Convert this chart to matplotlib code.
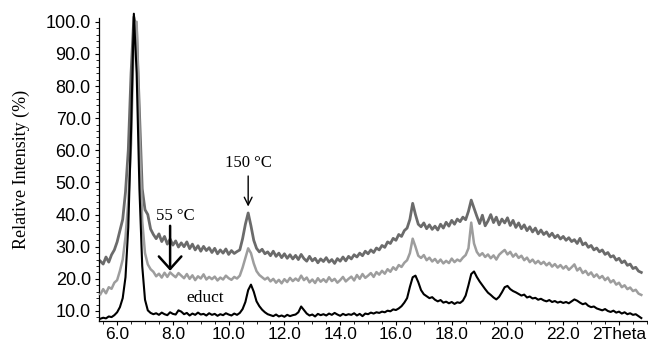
import numpy as np
import matplotlib
matplotlib.use("Agg")
import matplotlib.pyplot as plt
from matplotlib.ticker import MultipleLocator, FormatStrFormatter, FixedLocator

# 2-theta sampling grid (degrees), 0.1 deg steps from 5.4 to 24.8
two_theta = np.round(np.arange(5.4, 24.85, 0.1), 1)

# Relative intensities (%) for the starting material
educt = [
    7.6, 7.9, 7.7, 8.3, 8.1, 8.7, 9.6, 11.2, 14.0, 20.5,
    36.0, 66.0, 102.5, 84.0, 48.0, 24.0, 13.5, 10.2, 9.4, 9.0,
    9.3, 8.8, 9.5, 9.0, 8.7, 9.6, 9.1, 8.9, 10.2, 9.8,
    9.0, 9.4, 8.6, 9.2, 8.8, 9.5, 8.9, 9.1, 8.6, 9.3,
    8.8, 9.1, 8.5, 9.0, 8.7, 9.3, 8.9, 8.6, 9.2, 8.8,
    9.4, 10.6, 12.8, 16.5, 18.2, 16.0, 13.0, 11.5, 10.4, 9.6,
    9.0, 8.7, 8.4, 8.9, 8.3, 8.6, 8.2, 8.8, 8.4, 8.7,
    8.9, 9.6, 11.4, 10.3, 9.2, 8.6, 8.9, 8.3, 9.1, 8.7,
    9.0, 8.6, 9.2, 8.8, 9.4, 8.9, 8.5, 9.1, 8.7, 9.0,
    8.8, 9.3, 8.6, 9.1, 8.4, 9.2, 9.0, 9.5, 9.2, 9.6,
    9.4, 9.8, 9.6, 10.1, 9.9, 10.5, 10.3, 10.8, 11.5, 12.6,
    14.0, 17.5, 20.5, 21.0, 19.0, 16.5, 15.2, 14.6, 14.0, 14.3,
    13.5, 13.0, 13.4, 12.6, 12.9, 12.4, 12.8, 12.2, 12.7, 12.5,
    13.2, 14.8, 18.0, 21.5, 22.3, 20.6, 19.2, 18.0, 16.8, 15.7,
    15.0, 14.2, 13.6, 14.4, 15.8, 17.4, 17.8, 16.8, 16.2, 15.8,
    15.3, 14.8, 15.1, 14.2, 14.5, 13.9, 14.1, 13.5, 13.8, 13.3,
    13.0, 13.4, 12.8, 13.1, 12.6, 12.9, 12.5, 12.8, 12.4, 13.0,
    13.6, 13.2, 12.6, 12.1, 12.4, 11.6, 11.2, 11.4, 10.8, 10.5,
    10.2, 10.6, 10.0, 9.7, 10.1, 9.5, 9.8, 9.2, 9.6, 9.0,
    9.3, 8.8, 9.0, 8.4, 7.8,
]

# Relative intensities (%) after heating to 55 °C
heated_55 = [
    15.2, 16.8, 15.5, 17.4, 16.9, 18.8, 19.6, 22.5, 26.0, 33.0,
    44.0, 62.0, 97.0, 100.0, 66.0, 38.0, 28.0, 24.5, 23.0, 22.2,
    20.8, 21.6, 20.4, 21.9, 20.6, 22.0, 21.2, 20.5, 21.8, 21.0,
    20.2, 21.5, 20.0, 21.1, 19.6, 20.8, 20.1, 21.4, 19.8, 20.6,
    19.9, 20.7, 19.5, 20.4, 19.8, 21.0, 20.2, 19.7, 20.6, 20.1,
    21.0, 23.5, 26.5, 29.5, 28.0, 24.8, 22.4, 21.2, 20.5, 19.8,
    20.4, 19.2, 20.0, 18.8, 19.7, 18.6, 19.9, 19.0, 20.3, 19.3,
    20.1, 19.4, 21.0, 19.6, 20.4, 18.9, 19.8, 18.7, 20.2, 19.1,
    19.9, 19.0, 20.5, 19.3, 20.0, 18.8, 19.6, 20.6, 19.2, 20.0,
    20.7, 19.5, 21.2, 20.0, 21.5, 20.3, 21.0, 21.8, 20.6, 22.1,
    21.3, 22.5, 21.6, 23.0, 22.2, 23.6, 22.8, 24.3, 23.7, 25.0,
    25.8, 28.0, 32.5, 30.0, 27.2, 26.5, 27.4, 25.8, 26.6, 25.4,
    26.2, 25.0, 26.0, 24.8, 25.6, 24.9, 26.3, 25.2, 26.0, 25.5,
    26.6, 27.4, 29.5, 37.5, 31.0, 28.4, 27.2, 28.0, 26.8, 27.6,
    26.4, 27.3, 26.0, 27.5, 28.3, 29.0, 27.6, 28.4, 26.9, 27.8,
    26.5, 27.2, 25.8, 26.6, 25.2, 26.0, 24.8, 25.6, 24.6, 25.3,
    24.2, 25.0, 23.8, 24.6, 23.5, 24.3, 23.2, 24.0, 22.8, 23.6,
    24.5, 22.6, 23.4, 21.8, 22.5, 21.2, 22.0, 20.6, 21.4, 20.2,
    20.9, 19.6, 20.4, 18.9, 19.6, 18.2, 18.8, 17.4, 18.0, 16.8,
    17.3, 16.2, 16.6, 15.4, 15.0,
]

# Relative intensities (%) after heating to 150 °C
heated_150 = [
    25.5, 24.6, 26.8, 25.2, 27.5, 29.0, 31.5, 35.0, 38.5, 47.0,
    60.0, 84.0, 101.5, 97.0, 72.0, 48.0, 41.5, 40.0, 35.5, 33.8,
    32.5, 34.0, 31.6, 33.2, 30.8, 32.4, 30.5, 31.8, 29.9, 31.2,
    30.0, 31.5, 29.4, 30.8, 29.0, 30.3, 28.6, 30.1, 28.8, 29.7,
    28.2, 29.5, 27.8, 29.0, 28.0, 29.3, 27.6, 28.8, 27.9, 28.5,
    29.0, 32.5, 37.0, 40.5, 36.5, 32.0, 29.5, 28.4, 29.2, 27.8,
    28.4, 27.2, 28.6, 27.0, 28.0, 26.6, 27.8, 26.4, 27.5, 26.2,
    27.3, 26.0, 27.6, 26.3, 25.5, 27.0, 25.6, 26.4, 25.0, 26.2,
    25.4, 26.6, 25.2, 26.0, 24.8, 26.3, 25.5, 26.8, 25.6, 27.0,
    26.2, 27.5, 26.8, 28.0, 27.2, 28.6, 27.8, 29.0, 28.2, 29.6,
    29.0, 30.4, 29.8, 31.5, 31.0, 32.6, 32.0, 33.8, 33.2, 35.0,
    35.8, 38.5, 43.5, 40.0, 37.0, 36.2, 37.4, 35.6, 36.8, 35.4,
    36.4, 35.2, 37.0, 35.8, 37.6, 36.4, 38.2, 37.0, 38.6, 37.8,
    39.2, 38.4, 41.0, 44.5, 42.0, 39.5, 37.2, 39.8, 36.5, 38.0,
    40.0, 37.5, 39.2, 36.8, 38.6, 37.4, 39.0, 36.6, 38.2, 36.0,
    37.4, 35.6, 36.8, 35.0, 36.2, 34.6, 35.8, 34.0, 35.2, 33.8,
    34.6, 33.2, 34.2, 32.8, 33.6, 32.4, 33.2, 32.0, 32.8, 31.6,
    32.2, 31.0, 32.6, 30.6, 31.2, 29.8, 30.4, 29.0, 29.6, 28.4,
    29.0, 27.6, 28.2, 26.8, 27.2, 25.8, 26.4, 25.0, 25.6, 24.2,
    24.6, 23.2, 23.6, 22.4, 22.0,
]

x_ticks = [6.0, 8.0, 10.0, 12.0, 14.0, 16.0, 18.0, 20.0, 22.0, 24.0]
x_tick_labels = ["6.0", "8.0", "10.0", "12.0", "14.0", "16.0", "18.0",
                 "20.0", "22.0", "2Theta"]
y_ticks = [10.0, 20.0, 30.0, 40.0, 50.0, 60.0, 70.0, 80.0, 90.0, 100.0]

SANS = ["Liberation Sans", "DejaVu Sans"]
SERIF = ["Liberation Serif", "DejaVu Serif"]

fig = plt.figure(figsize=(6.48, 3.44), dpi=100)
ax = fig.add_axes([0.153, 0.067, 0.847, 0.881])

ax.plot(two_theta, heated_150, color="#6b6b6b", lw=2.0, clip_on=False, zorder=2)
ax.plot(two_theta, heated_55, color="#9d9d9d", lw=1.8, clip_on=False, zorder=3)
ax.plot(two_theta, educt, color="#000000", lw=1.5, clip_on=False, zorder=4)

ax.set_xlim(5.355, 25.04)
ax.set_ylim(6.9, 101.2)

for side in ("top", "right"):
    ax.spines[side].set_visible(False)
for side in ("left", "bottom"):
    ax.spines[side].set_linewidth(0.9)

ax.xaxis.set_major_locator(FixedLocator(x_ticks))
ax.set_xticklabels(x_tick_labels, fontfamily=SANS, fontsize=12.5)
ax.xaxis.set_minor_locator(MultipleLocator(0.5))
ax.yaxis.set_major_locator(FixedLocator(y_ticks))
ax.yaxis.set_major_formatter(FormatStrFormatter("%.1f"))
ax.yaxis.set_minor_locator(MultipleLocator(2.0))
for lbl in ax.get_yticklabels():
    lbl.set_fontfamily(SANS)
    lbl.set_fontsize(13)
ax.tick_params(axis="both", which="major", direction="out", length=3, width=0.8, pad=3)
ax.tick_params(axis="x", which="major", pad=1.5)
ax.tick_params(axis="both", which="minor", direction="out", length=2, width=0.6)

ax.set_ylabel("Relative Intensity (%)", fontfamily=SERIF, fontsize=13, labelpad=11)

# Temperature markers
ax.annotate("", xy=(10.7, 42.5), xytext=(10.7, 52.0),
            arrowprops=dict(arrowstyle="->", color="black", lw=1.0,
                            mutation_scale=14, shrinkA=0, shrinkB=0))
ax.text(10.7, 53.5, "150 °C", ha="center", va="bottom", fontfamily=SERIF, fontsize=12)

ax.annotate("", xy=(7.9, 22.5), xytext=(7.9, 36.5),
            arrowprops=dict(arrowstyle="->,head_length=0.5,head_width=0.45",
                            color="black", lw=1.8, mutation_scale=18,
                            shrinkA=0, shrinkB=0))
ax.text(8.1, 37.0, "55 °C", ha="center", va="bottom", fontfamily=SERIF, fontsize=12)

ax.text(9.15, 11.6, "educt", ha="center", va="bottom", fontfamily=SERIF, fontsize=12.5)

fig.savefig("out.png", dpi=100)
